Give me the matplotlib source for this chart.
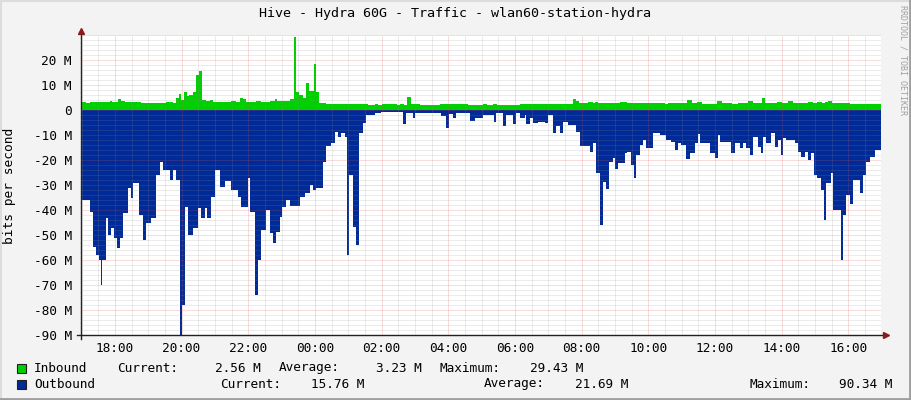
import matplotlib
matplotlib.use("Agg")
import numpy as np
import pandas as pd
import matplotlib.pyplot as plt
import matplotlib.dates as mdates
from matplotlib.ticker import MultipleLocator, FuncFormatter
from matplotlib.lines import Line2D
from matplotlib.patches import Rectangle

# graph window: 24 hours ending at 16:59
start = pd.Timestamp("2024-05-01 16:59")
end = start + pd.Timedelta(hours=24)

# outbound traffic (Mbit/s), step changes
out_clock = [
    "16:59", "17:01", "17:15", "17:21", "17:26", "17:31", "17:35", "17:37", "17:44", "17:48", "17:53", "17:58",
    "18:04", "18:09", "18:14", "18:24", "18:29", "18:33", "18:43", "18:51", "18:56",
    "19:05", "19:14", "19:21", "19:27", "19:39", "19:45", "19:50", "19:57",
    "20:01", "20:06", "20:12", "20:21", "20:30", "20:35", "20:42", "20:46", "20:53",
    "21:00", "21:09", "21:18", "21:29", "21:42", "21:47",
    "22:00", "22:03", "22:12", "22:18", "22:23", "22:32", "22:39", "22:45", "22:50", "22:57",
    "23:01", "23:08", "23:15", "23:33", "23:42", "23:51", "23:57",
    "00:02", "00:15", "00:20", "00:29", "00:36", "00:42", "00:47", "00:54", "00:58",
    "01:01", "01:09", "01:14", "01:19", "01:27", "01:32", "01:48", "01:59",
    "02:39", "02:44", "02:57", "03:00", "03:47", "03:56",
    "04:01", "04:09", "04:14", "04:39", "04:48",
    "05:03", "05:22", "05:26", "05:39", "05:44", "05:57",
    "06:02", "06:09", "06:18", "06:20", "06:27", "06:33", "06:42", "06:54",
    "07:00", "07:09", "07:14", "07:21", "07:27", "07:36", "07:50", "07:57",
    "08:15", "08:21", "08:26", "08:33", "08:39", "08:44", "08:49", "08:57",
    "09:00", "09:06", "09:18", "09:22", "09:29", "09:34", "09:38", "09:45", "09:51", "09:56",
    "10:09", "10:21", "10:32", "10:41", "10:48", "10:53", "10:59",
    "11:08", "11:15", "11:24", "11:29", "11:33", "11:51",
    "12:00", "12:06", "12:09", "12:29", "12:36", "12:45", "12:51", "12:56",
    "13:03", "13:09", "13:18", "13:23", "13:27", "13:32", "13:41", "13:48", "13:54", "13:59",
    "14:03", "14:08", "14:24", "14:30", "14:35", "14:42", "14:48", "14:53", "14:58",
    "15:04", "15:11", "15:16", "15:20", "15:29", "15:33", "15:47", "15:51", "15:56",
    "16:03", "16:09", "16:21", "16:27", "16:32", "16:39", "16:48",
]
out_mbps = [
    22, 36, 40.7, 54.7, 58, 60, 70, 60, 43, 50, 47, 51,
    55, 51, 41, 31, 35, 29, 42, 52, 45,
    43, 26, 20.7, 24, 28, 24, 28, 90.3,
    78, 38.7, 50, 47.3, 39.3, 43.3, 39.3, 43.3, 34.7,
    24, 30.7, 28.5, 32, 34.7, 38.7,
    27.3, 40.7, 74, 60, 48, 40, 49.3, 53.3, 48.7, 42.7,
    38.7, 36, 38.4, 34.7, 33.3, 30, 32,
    31.3, 20.7, 14.4, 13.3, 8.7, 10.7, 9.3, 10.7, 58,
    26, 46.7, 54, 9.3, 5.3, 2, 1.3, 0.8,
    5.6, 1.3, 3.3, 1, 2.4, 7.3,
    1.5, 3, 1.3, 4.3, 3.3,
    2, 4.7, 1, 6.4, 2, 5.6,
    1.3, 3, 2, 5.6, 3.3, 5, 4.7, 5.3,
    2, 9.3, 6.4, 9, 4.7, 6, 8.7, 14.4,
    16.7, 13.3, 25.3, 46, 28.7, 31.7, 20.7, 19.3,
    23.7, 21.3, 17.3, 16.7, 22, 27.3, 18, 14, 12, 15,
    9.3, 10, 12, 12.7, 16, 13.3, 14,
    19.7, 17.3, 13.3, 9.6, 13.3, 17.3,
    19.3, 10, 12.7, 17.3, 13.3, 15.3, 13.3, 15.3,
    18, 10.7, 14.7, 17, 10.7, 13.3, 9.3, 14.7, 12, 18,
    11, 12, 13.3, 16.7, 18.7, 16.7, 20, 17, 26,
    27.3, 32, 44, 29, 25.3, 40, 60, 42, 34,
    37.6, 28, 33.3, 26, 20.7, 18.7, 16,
]

# inbound traffic (Mbit/s)
in_clock = [
    "16:59", "17:08", "17:15", "17:51", "17:54",
    "18:06", "18:11", "18:18", "18:38", "18:47",
    "19:32", "19:45", "19:50", "19:55", "19:59",
    "20:04", "20:10", "20:13", "20:21", "20:26", "20:31", "20:37", "20:44", "20:51", "20:57",
    "21:18", "21:29", "21:38", "21:45", "21:51", "21:56",
    "22:14", "22:23", "22:39", "22:48", "22:52",
    "23:06", "23:12", "23:15", "23:22", "23:26", "23:31", "23:39", "23:44", "23:49", "23:58",
    "00:02", "00:07", "00:20",
    "01:36", "01:48", "01:54",
    "02:01", "02:28", "02:33", "02:40", "02:46", "02:53",
    "03:09", "03:45",
    "04:36",
    "05:03", "05:10", "05:21", "05:28",
    "06:09",
    "07:45", "07:50", "07:55",
    "08:02", "08:11", "08:21", "08:24", "08:30", "08:39", "08:51",
    "09:00", "09:09", "09:22",
    "10:21", "10:30", "10:36",
    "11:10", "11:19", "11:28", "11:37",
    "12:04", "12:13", "12:22", "12:31", "12:42",
    "13:00", "13:09", "13:25", "13:31", "13:52",
    "14:01", "14:12", "14:21", "14:48", "14:57",
    "15:04", "15:13", "15:18", "15:24", "15:31",
    "16:03", "16:18",
]
in_mbps = [
    3.3, 2.9, 3.3, 3.7, 3.1,
    4.4, 3.6, 3.1, 3.3, 2.9,
    3.3, 2.9, 4.9, 6.4, 4.0,
    7.3, 5.6, 6.0, 7.3, 14.0, 15.6, 4.0, 3.6, 4.0, 3.3,
    3.1, 3.7, 3.3, 4.9, 4.3, 3.2,
    3.7, 3.2, 3.7, 4.3, 3.5,
    3.7, 3.5, 4.4, 29.4, 7.3, 6.0, 4.9, 11.0, 7.6, 18.4,
    7.3, 2.9, 2.4,
    2.0, 2.4, 2.0,
    2.4, 2.0, 2.4, 2.0, 5.2, 2.4,
    2.0, 2.4,
    2.0,
    2.4, 2.0, 2.4, 2.0,
    2.4,
    4.4, 3.6, 2.7,
    2.9, 3.2, 2.9, 3.2, 2.8, 2.7, 2.8,
    2.7, 3.2, 2.7,
    2.8, 2.5, 2.8,
    4.0, 2.9, 3.3, 2.5,
    3.6, 2.7, 2.9, 2.5, 2.9,
    3.6, 2.7, 4.7, 2.7, 3.2,
    2.7, 3.6, 2.8, 3.2, 2.9,
    3.3, 3.0, 3.3, 3.7, 2.8,
    2.5, 2.6,
]

legend_rows = [
    ("Inbound", "#00CF00", [("Current:", "2.56 M"), ("Average:", "3.23 M"), ("Maximum:", "29.43 M")]),
    ("Outbound", "#002A97", [("Current:", "15.76 M"), ("Average:", "21.69 M"), ("Maximum:", "90.34 M")]),
]

title = "Hive - Hydra 60G - Traffic - wlan60-station-hydra"
mono = "DejaVu Sans Mono"
W, H = 911, 400


def to_num(clock):
    day = start.strftime("%Y-%m-%d ")
    ts = []
    for c in clock:
        t = pd.Timestamp(day + c)
        if t < start:
            t += pd.Timedelta(days=1)
        ts.append(t)
    ts.append(end)
    return mdates.date2num(ts)


def ylabel(v, pos):
    if v == 0:
        return "0"
    if v > 25:
        return ""
    return "%d M" % v


fig = plt.figure(figsize=(W / 100, H / 100), dpi=100, facecolor="#F3F3F3")
ax = fig.add_axes([81 / W, 65 / H, 800 / W, 300 / H])
ax.set_facecolor("white")

tx = to_num(out_clock)
ty = -np.append(out_mbps, out_mbps[-1])
ax.fill_between(tx, 0, ty, step="post", color="#002A97", lw=0)
tx = to_num(in_clock)
ty = np.append(in_mbps, in_mbps[-1])
ax.fill_between(tx, 0, ty, step="post", color="#00CF00", lw=0)

ax.set_xlim(mdates.date2num(start), mdates.date2num(end))
ax.set_ylim(-90, 30)
ax.xaxis.set_major_locator(mdates.HourLocator(byhour=range(0, 24, 2)))
ax.xaxis.set_minor_locator(mdates.MinuteLocator(byminute=[0, 30]))
ax.xaxis.set_major_formatter(mdates.DateFormatter("%H:%M"))
ax.yaxis.set_major_locator(MultipleLocator(10))
ax.yaxis.set_minor_locator(MultipleLocator(2))
ax.yaxis.set_major_formatter(FuncFormatter(ylabel))

ax.set_axisbelow(False)
ax.grid(which="minor", color="#8F8F8F", alpha=0.35, linestyle=(0, (1, 1)), linewidth=0.72)
ax.grid(which="major", color="#E05050", alpha=0.4, linestyle=(0, (1, 1)), linewidth=0.72)
for s in ax.spines.values():
    s.set_visible(False)
ax.tick_params(which="both", length=0)
ax.tick_params(axis="y", pad=6.5)
ax.tick_params(axis="x", pad=5)
for lab in ax.get_xticklabels() + ax.get_yticklabels():
    lab.set_fontfamily(mono)
    lab.set_fontsize(9.2)

# axes with arrow heads
ax.plot([0, 0], [-4 / 300, 1 + 2 / 300], color="#202020", lw=1, transform=ax.transAxes, clip_on=False)
ax.plot([-4 / 800, 1 + 4 / 800], [0, 0], color="#202020", lw=1, transform=ax.transAxes, clip_on=False)
ax.plot([0], [1 + 4 / 300], marker="^", ms=4.5, color="#8B1A1A", transform=ax.transAxes, clip_on=False)
ax.plot([1 + 5 / 800], [0], marker=">", ms=4.5, color="#8B1A1A", transform=ax.transAxes, clip_on=False)

fig.text(455 / W, 1 - 14 / H, title, ha="center", va="center", family=mono, fontsize=9.6)
fig.text(10 / W, 1 - 186 / H, "bits per second", rotation=90, ha="center", va="center",
         family=mono, fontsize=9.3)
fig.text(903.5 / W, 1 - 60 / H, "RRDTOOL / TOBI OETIKER", rotation=270, ha="center", va="center",
         family=mono, fontsize=6, color="#A0A0A0")

# legend rows laid out like rrdtool's gprint lines
label_x = [[117, 279, 440], [220, 484, 749]]
value_x = [[261, 422, 583], [364, 628, 892]]
for i, (name, color, stats) in enumerate(legend_rows):
    yc = 368 + i * 16
    fig.patches.append(Rectangle((17 / W, 1 - (yc + 4.5) / H), 9 / W, 9 / H, facecolor=color,
                                 edgecolor="#202020", lw=0.8, transform=fig.transFigure))
    fig.text(34 / W, 1 - yc / H, name, ha="left", va="center", family=mono, fontsize=9.2)
    for j, (lab, val) in enumerate(stats):
        fig.text(label_x[i][j] / W, 1 - yc / H, lab, ha="left", va="center", family=mono, fontsize=9.2)
        fig.text(value_x[i][j] / W, 1 - yc / H, val, ha="right", va="center", family=mono, fontsize=9.2)

# 3d-ish frame around the image
fig.add_artist(Line2D([0, 1], [1 - 0.5 / H, 1 - 0.5 / H], color="#DCDCDC", lw=1.5, transform=fig.transFigure))
fig.add_artist(Line2D([0.5 / W, 0.5 / W], [0, 1], color="#DCDCDC", lw=1.5, transform=fig.transFigure))
fig.add_artist(Line2D([0, 1], [1 / H, 1 / H], color="#9E9E9E", lw=2, transform=fig.transFigure))
fig.add_artist(Line2D([1 - 1 / W, 1 - 1 / W], [0, 1], color="#9E9E9E", lw=2, transform=fig.transFigure))

fig.savefig("out.png", dpi=100, facecolor=fig.get_facecolor())
